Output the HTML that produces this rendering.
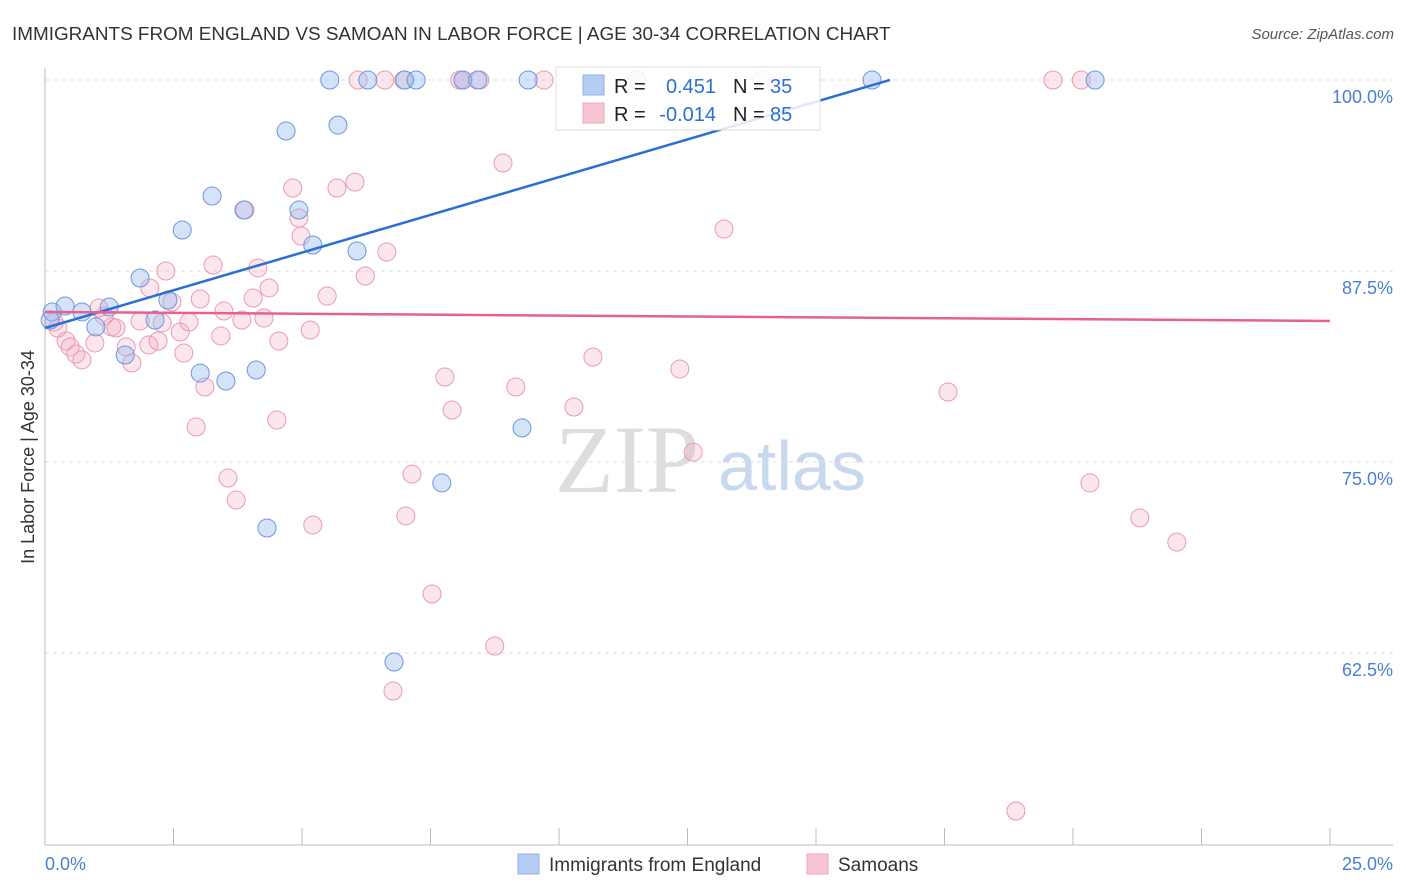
<!DOCTYPE html>
<html><head><meta charset="utf-8">
<style>
body{margin:0;background:#fff;font-family:"Liberation Sans",sans-serif;}
#wrap{position:relative;width:1406px;height:892px;overflow:hidden;}
</style></head>
<body>
<div id="wrap">
<svg id="svg" width="1406" height="892" xmlns="http://www.w3.org/2000/svg">
<text x="12" y="40" font-size="18.9" fill="#333">IMMIGRANTS FROM ENGLAND VS SAMOAN IN LABOR FORCE | AGE 30-34 CORRELATION CHART</text>
<text x="1394" y="39" font-size="15" fill="#555" font-style="italic" text-anchor="end">Source: ZipAtlas.com</text>
<text transform="translate(34,457) rotate(-90)" font-size="18" fill="#333" text-anchor="middle">In Labor Force | Age 30-34</text>
<text x="555" y="492" font-size="96" fill="#ddd" font-family="Liberation Serif,serif">ZIP</text>
<text x="718" y="490" font-size="70" fill="#c8d8ee">atlas</text>
<g id="grid"></g><g id="marks"></g>
</svg>
</div>
<script>
const xTickLabels=["0.0%","25.0%"];
const yTicks=[100,87.5,75,62.5];
const yTickLabels=["100.0%","87.5%","75.0%","62.5%"];
const blueX=[5.54,6.28,7.00,7.22,8.13,8.42,9.40,11.52,16.09,20.43,4.69,5.70,3.25,2.67,4.94,3.87,5.21,6.07,1.85,0.14,0.39,0.72,1.25,2.39,2.14,0.99,1.56,3.02,3.52,4.11,9.28,7.72,4.32,6.79,0.10];
const blueY=[100,100,100,100,100,100,100,100,100,100,96.66,97.05,92.41,90.18,91.49,91.49,89.20,88.81,87.04,84.82,85.21,84.82,85.14,85.60,84.29,83.84,82.00,80.82,80.30,81.02,77.23,73.63,70.68,61.91,84.29];
const pinkX=[6.09,6.61,6.98,8.07,8.13,8.46,9.71,13.95,19.61,20.16,8.91,4.82,5.68,6.03,4.94,4.98,3.89,6.65,6.23,2.35,3.27,4.14,4.36,2.04,5.49,2.47,3.02,4.05,3.48,1.05,1.15,1.30,1.38,1.85,2.28,2.80,3.83,4.26,5.16,2.63,3.42,0.18,0.25,0.41,0.49,0.97,1.58,2.02,2.20,4.55,0.60,0.72,1.69,2.70,3.11,13.21,10.66,12.35,7.78,9.16,7.92,10.29,17.57,2.94,4.51,12.61,7.14,3.56,3.72,20.33,7.02,5.21,21.30,22.02,7.53,8.75,6.77,18.89];
const pinkY=[100,100,100,100,100,100,100,100,100,100,94.57,92.93,92.93,93.32,90.97,89.79,91.49,88.74,87.17,87.50,87.89,87.70,86.39,86.39,85.86,85.47,85.67,85.73,84.88,85.08,84.55,83.84,83.77,84.23,84.10,84.16,84.29,84.42,83.64,83.51,83.25,84.16,83.77,82.92,82.53,82.79,82.53,82.66,82.92,82.92,82.07,81.68,81.48,82.13,79.91,90.25,81.87,81.09,80.56,79.91,78.40,78.60,79.58,77.29,77.75,75.65,74.21,73.95,72.51,73.63,71.47,70.88,71.34,69.76,66.36,62.96,60.01,52.16];
const blueTrend=[0,83.77,16.44,100];
const pinkTrend=[0,84.82,25,84.23];
const NS="http://www.w3.org/2000/svg";
const X=v=>45+v*51.4, Y=v=>80+(100-v)*15.28;
function mk(t,a,p){const e=document.createElementNS(NS,t);for(const k in a)e.setAttribute(k,a[k]);p.appendChild(e);return e;}
const g=document.getElementById('grid'), m=document.getElementById('marks');
yTicks.forEach((t,i)=>{
 const l=mk('line',{x1:45,x2:1393,y1:Y(t),y2:Y(t),stroke:'#ddd','stroke-dasharray':'4,4'},g);
 
 
 const tx=mk('text',{x:1393,y:Y(t)+23,'font-size':18,fill:'#4a7fd6','text-anchor':'end'},g);
 tx.textContent=yTickLabels[i];
 
 
});
const ya=mk('line',{x1:45,x2:45,y1:68,y2:845,stroke:'#bbb'},g);


const xa=mk('line',{x1:45,x2:1393,y1:845,y2:845,stroke:'#bbb'},g);


for(let i=1;i<=10;i++){const v=i*2.5;const t=mk('line',{x1:X(v),x2:X(v),y1:828,y2:845,stroke:'#bbb'},g);
 
 }
[[X(0),'start'],[X(25)+63,'end']].forEach((p,i)=>{const t=mk('text',{x:p[0],y:870,'font-size':18,fill:'#4a7fd6','text-anchor':p[1]},g);t.textContent=xTickLabels[i];
 
 });
pinkX.forEach((v,i)=>{const c=mk('circle',{cx:X(v),cy:Y(pinkY[i]),r:9,fill:'rgba(245,165,190,0.28)',stroke:'#eb9aae','stroke-width':1},m);
 
 });
blueX.forEach((v,i)=>{const c=mk('circle',{cx:X(v),cy:Y(blueY[i]),r:9,fill:'rgba(150,185,240,0.4)',stroke:'#6a98de','stroke-width':1},m);
 
 });
const bl=mk('line',{x1:X(blueTrend[0]),y1:Y(blueTrend[1]),x2:X(blueTrend[2]),y2:Y(blueTrend[3]),stroke:'#2a6fd6','stroke-width':2.5},m);


const pl=mk('line',{x1:X(pinkTrend[0]),y1:Y(pinkTrend[1]),x2:X(pinkTrend[2]),y2:Y(pinkTrend[3]),stroke:'#e8608f','stroke-width':2.5},m);


const lg=mk('g',{},m);


mk('rect',{x:556,y:67,width:264,height:63,fill:'rgba(255,255,255,0.85)',stroke:'#ddd'},lg);
mk('rect',{x:583,y:75,width:21,height:20,fill:'#b5cdf3',stroke:'#8fb0e8'},lg);
mk('rect',{x:583,y:103,width:21,height:20,fill:'#f8c5d3',stroke:'#eca5b8'},lg);
function tt(x,y,s,c,a){const t=mk('text',{x:x,y:y,'font-size':20,fill:c,'text-anchor':a||'start'},lg);t.textContent=s;return t;}
tt(614,93,'R =','#222');tt(716,93,'0.451','#2a6fd6','end');tt(733,93,'N =','#222');tt(770,93,'35','#2a6fd6');
tt(614,121,'R =','#222');tt(716,121,'-0.014','#2a6fd6','end');tt(733,121,'N =','#222');tt(770,121,'85','#2a6fd6');
const bl2=mk('g',{},m);


mk('rect',{x:518,y:854,width:21,height:20,fill:'#b5cdf3',stroke:'#8fb0e8'},bl2);
const a1=mk('text',{x:549,y:871,'font-size':19,fill:'#333'},bl2);a1.textContent='Immigrants from England';
mk('rect',{x:807,y:854,width:21,height:20,fill:'#f8c5d3',stroke:'#eca5b8'},bl2);
const a2=mk('text',{x:838,y:871,'font-size':19,fill:'#333'},bl2);a2.textContent='Samoans';
</script>
</body></html>
